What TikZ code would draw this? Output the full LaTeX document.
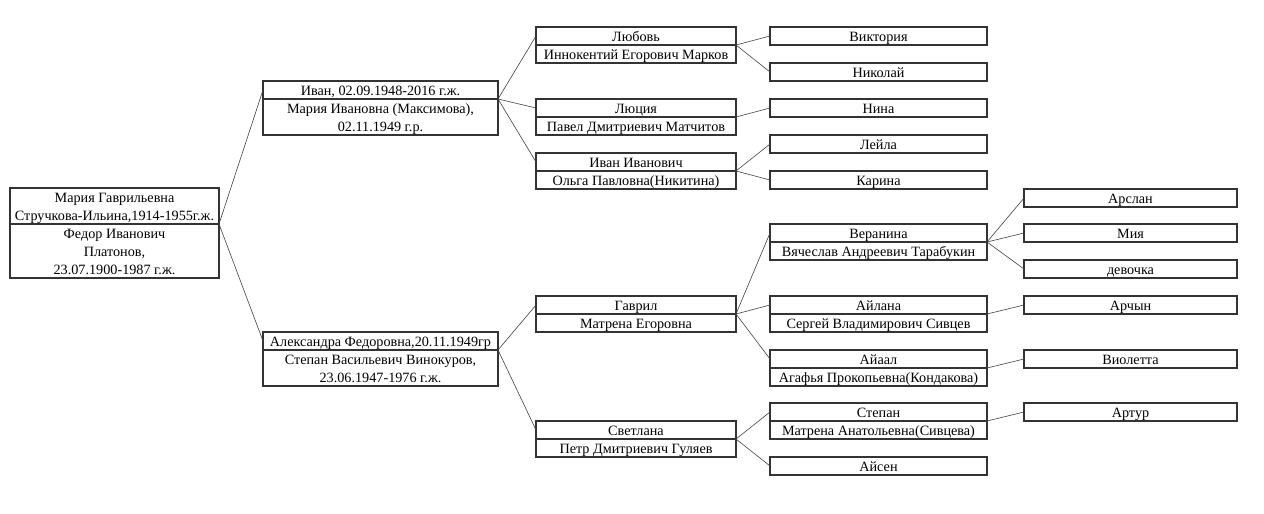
\documentclass[tikz,border=0pt]{standalone}
\usepackage{fontspec}
\setmainfont{Liberation Serif}
\usepackage{tikz}
\usetikzlibrary{positioning}

\begin{document}
\begin{tikzpicture}[
    x=1pt, y=-1pt,
    node distance=0pt,
    person/.style={rectangle, draw=black!80, line width=1.1pt, outer sep=0pt, inner sep=0pt, minimum height=18pt, text height=14pt, text depth=4pt, align=center, font=\fontsize{14.2}{18}\selectfont},
    twolines/.style={minimum height=36pt, text height=32pt},
    threelines/.style={minimum height=54pt, text height=50pt},
    gen0/.style={person, minimum width=209pt},
    gen1/.style={person, minimum width=235pt},
    gen2/.style={person, minimum width=200pt},
    gen3/.style={person, minimum width=217pt},
    gen4/.style={person, minimum width=213pt},
    link/.style={draw=black!75, line width=0.6pt}
]
    \useasboundingbox (0,0) rectangle (1264,514);

    % Root couple
    \node (root) [gen0, twolines, anchor=north west] at (10,188) {Мария Гаврильевна\\Стручкова-Ильина,1914-1955г.ж.};
    \node (rootS) [gen0, threelines, below=of root] {Федор Иванович\\Платонов,\\23.07.1900-1987 г.ж.};

    % Children
    \node (ivan) [gen1, anchor=north west] at (263,81) {Иван, 02.09.1948-2016 г.ж.};
    \node (ivanS) [gen1, twolines, below=of ivan] {Мария Ивановна (Максимова),\\02.11.1949 г.р.};
    \node (alex) [gen1, anchor=north west] at (263,332) {Александра Федоровна,20.11.1949гр};
    \node (alexS) [gen1, twolines, below=of alex] {Степан Васильевич Винокуров,\\23.06.1947-1976 г.ж.};

    % Grandchildren
    \node (lyubov) [gen2, anchor=north west] at (536,27) {Любовь};
    \node (lyubovS) [gen2, below=of lyubov] {Иннокентий Егорович Марков};
    \node (lyucia) [gen2, anchor=north west] at (536,99) {Люция};
    \node (lyuciaS) [gen2, below=of lyucia] {Павел Дмитриевич Матчитов};
    \node (ivaniv) [gen2, anchor=north west] at (536,153) {Иван Иванович};
    \node (ivanivS) [gen2, below=of ivaniv] {Ольга Павловна(Никитина)};
    \node (gavril) [gen2, anchor=north west] at (536,296) {Гаврил};
    \node (gavrilS) [gen2, below=of gavril] {Матрена Егоровна};
    \node (svetlana) [gen2, anchor=north west] at (536,421) {Светлана};
    \node (svetlanaS) [gen2, below=of svetlana] {Петр Дмитриевич Гуляев};

    % Great-grandchildren
    \node (viktoria) [gen3, anchor=north west] at (770,27) {Виктория};
    \node (nikolai) [gen3, anchor=north west] at (770,63) {Николай};
    \node (nina) [gen3, anchor=north west] at (770,99) {Нина};
    \node (leila) [gen3, anchor=north west] at (770,135) {Лейла};
    \node (karina) [gen3, anchor=north west] at (770,171) {Карина};
    \node (veranina) [gen3, anchor=north west] at (770,224) {Веранина};
    \node (veraninaS) [gen3, below=of veranina] {Вячеслав Андреевич Тарабукин};
    \node (ailana) [gen3, anchor=north west] at (770,296) {Айлана};
    \node (ailanaS) [gen3, below=of ailana] {Сергей Владимирович Сивцев};
    \node (aiaal) [gen3, anchor=north west] at (770,350) {Айаал};
    \node (aiaalS) [gen3, below=of aiaal] {Агафья Прокопьевна(Кондакова)};
    \node (stepan) [gen3, anchor=north west] at (770,403) {Степан};
    \node (stepanS) [gen3, below=of stepan] {Матрена Анатольевна(Сивцева)};
    \node (aisen) [gen3, anchor=north west] at (770,457) {Айсен};

    % Next generation
    \node (arslan) [gen4, anchor=north west] at (1024,189) {Арслан};
    \node (miya) [gen4, anchor=north west] at (1024,224) {Мия};
    \node (devochka) [gen4, anchor=north west] at (1024,260) {девочка};
    \node (archyn) [gen4, anchor=north west] at (1024,296) {Арчын};
    \node (violetta) [gen4, anchor=north west] at (1024,350) {Виолетта};
    \node (artur) [gen4, anchor=north west] at (1024,403) {Артур};

    % Links
    \draw [link] (rootS.north east) -- (ivan.west);
    \draw [link] (rootS.north east) -- (alex.west);

    \draw [link] (ivanS.north east) -- (lyubov.west);
    \draw [link] (ivanS.north east) -- (lyucia.west);
    \draw [link] (ivanS.north east) -- (ivaniv.west);
    \draw [link] (alexS.north east) -- (gavril.west);
    \draw [link] (alexS.north east) -- (svetlana.west);

    \draw [link] (lyubovS.north east) -- (viktoria.west);
    \draw [link] (lyubovS.north east) -- (nikolai.west);
    \draw [link] (lyuciaS.north east) -- (nina.west);
    \draw [link] (ivanivS.north east) -- (leila.west);
    \draw [link] (ivanivS.north east) -- (karina.west);
    \draw [link] (gavrilS.north east) -- (veranina.west);
    \draw [link] (gavrilS.north east) -- (ailana.west);
    \draw [link] (gavrilS.north east) -- (aiaal.west);
    \draw [link] (svetlanaS.north east) -- (stepan.west);
    \draw [link] (svetlanaS.north east) -- (aisen.west);

    \draw [link] (veraninaS.north east) -- (arslan.west);
    \draw [link] (veraninaS.north east) -- (miya.west);
    \draw [link] (veraninaS.north east) -- (devochka.west);
    \draw [link] (ailanaS.north east) -- (archyn.west);
    \draw [link] (aiaalS.north east) -- (violetta.west);
    \draw [link] (stepanS.north east) -- (artur.west);

\end{tikzpicture}
\end{document}
